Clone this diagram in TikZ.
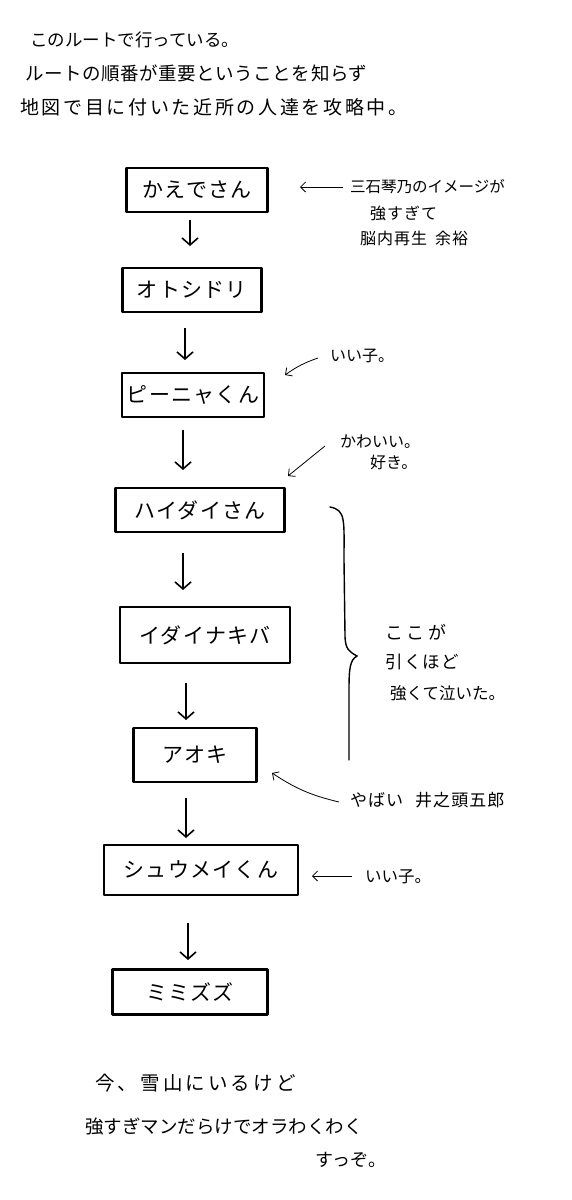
\documentclass[tikz,border=0pt]{standalone}
\usepackage{fontspec}
\setmainfont{Noto Sans CJK JP}
\usetikzlibrary{arrows.meta}
\newcommand{\fs}[1]{\fontsize{#1}{#1}\selectfont}
\newcommand{\ls}[1]{\addfontfeature{LetterSpace=#1}}
\begin{document}
\begin{tikzpicture}[x=1pt,y=-1pt,
  box/.style={draw, line width=2.6pt, minimum height=44pt, inner sep=0pt, font=\fs{21}\ls{6}, line join=round},
  flow/.style={line width=1.6pt, -{Straight Barb[length=7pt,width=16pt]}},
  note/.style={font=\fs{16}, anchor=west, inner sep=0pt},
  big/.style={font=\fs{19}, anchor=west, inner sep=0pt},
  ptr/.style={line width=0.8pt, -{Straight Barb[length=5pt,width=10pt]}}]
\useasboundingbox (0,0) rectangle (572,1200);
\fill[white] (0,0) rectangle (572,1200);
% header
\node[big, font=\fs{17.5}] (h1) at (30,40) {このルートで行っている。};
\node[big, font=\fs{18.5}\ls{3}] (h2) at (25,73) {ルートの順番が重要ということを知らず};
\node[big, font=\fs{19}\ls{14}] (h3) at (20,107) {地図で目に付いた近所の人達を攻略中。};
% boxes
\node[box, minimum width=141pt] (b1) at (197,190) {かえでさん};
\node[box, minimum width=139pt] (b2) at (192,290) {オトシドリ};
\node[box, minimum width=142pt] (b3) at (193,395) {ピーニャくん};
\node[box, minimum width=169pt] (b4) at (200,510) {ハイダイさん};
\node[box, minimum width=170pt, minimum height=56pt] (b5) at (205,635) {イダイナキバ};
\node[box, minimum width=123pt, minimum height=54pt] (b6) at (195,755) {アオキ};
\node[box, minimum width=194pt, minimum height=50pt] (b7) at (201,870) {シュウメイくん};
\node[box, minimum width=155pt, minimum height=45pt] (b8) at (190,992) {ミミズズ};
% flow arrows
\coordinate (a1s) at (190,220); \coordinate (a1e) at (190,246);
\coordinate (a2s) at (185,328); \coordinate (a2e) at (185,360);
\coordinate (a3s) at (183,430); \coordinate (a3e) at (183,470);
\coordinate (a4s) at (183,553); \coordinate (a4e) at (183,590);
\coordinate (a5s) at (186,683); \coordinate (a5e) at (186,720);
\coordinate (a6s) at (186,798); \coordinate (a6e) at (186,838);
\coordinate (a7s) at (188,923); \coordinate (a7e) at (188,960);
\draw[flow] (a1s) -- (a1e);
\draw[flow] (a2s) -- (a2e);
\draw[flow] (a3s) -- (a3e);
\draw[flow] (a4s) -- (a4e);
\draw[flow] (a5s) -- (a5e);
\draw[flow] (a6s) -- (a6e);
\draw[flow] (a7s) -- (a7e);
% annotations
\node[note, font=\fs{15.5}] (n1a) at (350,187) {三石琴乃のイメージが};
\node[note, font=\fs{16}\ls{6}] (n1b) at (370,213) {強すぎて};
\node[note, font=\fs{16}\ls{6}] (n1c) at (360,238) {脳内再生\hspace{8pt}余裕};
\coordinate (p1s) at (343,187); \coordinate (p1e) at (300,187);
\draw[ptr] (p1s) -- (p1e);
\node[note] (n2) at (330,356) {いい子。};
\coordinate (p2s) at (318,358); \coordinate (p2e) at (285,375);
\draw[ptr] (p2s) to[bend right=8] (p2e);
\node[note] (n3a) at (340,442) {かわいい。};
\node[note] (n3b) at (370,462) {好き。};
\coordinate (p3s) at (325,446); \coordinate (p3e) at (288,476);
\draw[ptr] (p3s) -- (p3e);
% brace
\draw[line width=1.4pt, line cap=round] (330,507) .. controls (346,510) and (344,520) .. (344,560)
  -- (345,635) .. controls (345,650) and (350,652) .. (357,656)
  .. controls (350,660) and (349,668) .. (349,690) -- (349,760);
\node[note, font=\fs{18}\ls{20}] (n4a) at (385,632) {ここが};
\node[note, font=\fs{17.5}\ls{8}] (n4b) at (385,662) {引くほど};
\node[note, font=\fs{16.5}] (n4c) at (390,693) {強くて泣いた。};
\node[note, font=\fs{17}\ls{6}] (n5) at (350,800) {やばい\hspace{12pt}井之頭五郎};
\coordinate (p5s) at (339,802); \coordinate (p5e) at (272,773);
\draw[ptr] (p5s) to[bend left=10] (p5e);
\node[note, font=\fs{16.5}] (n6) at (365,877) {いい子。};
\coordinate (p6s) at (352,876); \coordinate (p6e) at (312,876);
\draw[ptr] (p6s) -- (p6e);
% footer
\node[big, font=\fs{19.5}\ls{16}] (f1) at (95,1083) {今、雪山にいるけど};
\node[big, font=\fs{18.5}] (f2) at (85,1127) {強すぎマンだらけでオラわくわく};
\node[big, font=\fs{18}] (f3) at (315,1160) {すっぞ。};
\end{tikzpicture}
\end{document}
